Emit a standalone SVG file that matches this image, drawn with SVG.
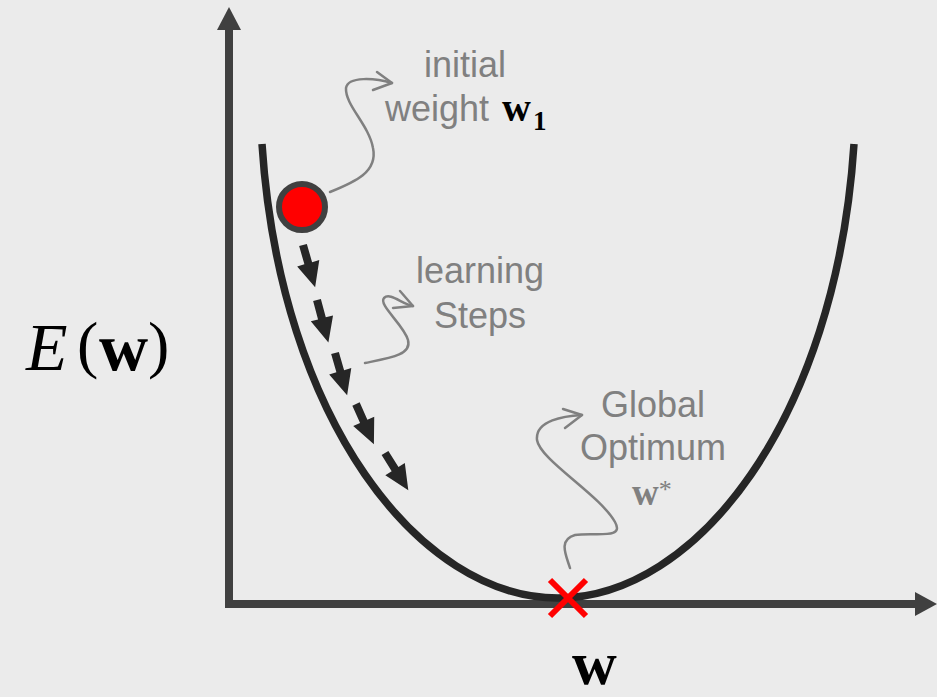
<svg xmlns="http://www.w3.org/2000/svg" width="937" height="697" viewBox="0 0 937 697">
<style>
.lbl{font-family:"Liberation Sans",Arial,sans-serif;font-size:36px;fill:#808080}
.math{font-family:"Liberation Serif","Times New Roman",serif;font-weight:bold}
.squig{fill:none;stroke:#808080;stroke-width:2.5;stroke-linecap:round;stroke-linejoin:round}
.step{fill:#262626}
</style>
<defs>
<path id="da" d="M0,-4 L19,-4 L19,-11.5 L44,0 L19,11.5 L19,4 L0,4 Z"/>
</defs>
<rect x="0" y="0" width="937" height="697" fill="#ebebeb"/>
<g id="axes">
<path d="M229,28 L229,604 L916,604" fill="none" stroke="#404040" stroke-width="8" stroke-linejoin="miter"/>
<polygon points="229,7 217,30 241,30" fill="#404040"/>
<polygon points="937,604 915,592 915,616" fill="#404040"/>
</g>
<g id="curve">
<path d="M262,144 C280,420 420,598 558,598 C696,598 836,420 854,144" fill="none" stroke="#262626" stroke-width="7.5"/>
</g>
<g id="connectors">
<path class="squig" d="M330,192 C355,182 378,172 373,148 C369,125 345,105 346,88 C348,76 375,78 392,83"/>
<path class="squig" d="M377,72 L392,83 L373,90"/>
<path class="squig" d="M365,363 C390,358 412,355 408,340 C404,325 378,305 384,298 C390,292 402,304 413,306"/>
<path class="squig" d="M400,291 L413,306 L393,308"/>
<path class="squig" d="M570,568 C566,555 558,540 575,535 C595,532 625,540 615,522 C600,495 540,460 537,440 C535,420 565,416 582,415"/>
<path class="squig" d="M563,409 L582,415 L565,428"/>
</g>
<g id="steps">
<use href="#da" class="step" transform="translate(303,245) rotate(74)"/>
<use href="#da" class="step" transform="translate(317,300) rotate(75)"/>
<use href="#da" class="step" transform="translate(335,353) rotate(74)"/>
<use href="#da" class="step" transform="translate(356,404) rotate(66)"/>
<use href="#da" class="step" transform="translate(385,453) rotate(58)"/>
</g>
<g id="initial-weight">
<circle cx="302" cy="207" r="23" fill="#ff0000" stroke="#404040" stroke-width="6"/>
</g>
<g id="optimum">
<path d="M550,580 L586,616 M586,580 L550,616" stroke="#ff0000" stroke-width="6"/>
</g>
<g id="label-initial">
<text class="lbl" x="465" y="77" text-anchor="middle">initial</text>
<text class="lbl" x="385" y="121">weight</text>
<text class="math" x="502" y="121" font-size="40" fill="#000">w</text>
<text class="math" x="533" y="130" font-size="27" fill="#000">1</text>
</g>
<g id="label-steps">
<text class="lbl" x="480" y="283" text-anchor="middle">learning</text>
<text class="lbl" x="480" y="328" text-anchor="middle">Steps</text>
</g>
<g id="label-optimum">
<text class="lbl" x="653" y="417" text-anchor="middle">Global</text>
<text class="lbl" x="653" y="460" text-anchor="middle">Optimum</text>
<text x="632" y="505" font-family="Liberation Serif,serif" fill="#808080"><tspan font-weight="bold" font-size="37">w</tspan><tspan font-size="26" dy="-7">*</tspan></text>
</g>
<g id="axis-labels">
<text y="370" font-family="Liberation Serif,serif" fill="#000"><tspan x="26" font-style="italic" font-size="68">E</tspan><tspan x="77" dy="-4" font-size="64">(</tspan><tspan x="99" dy="4" font-weight="bold" font-size="68">w</tspan><tspan x="148" dy="-4" font-size="64">)</tspan></text>
<text class="math" x="572" y="684" font-size="62" fill="#000">w</text>
</g>
</svg>
